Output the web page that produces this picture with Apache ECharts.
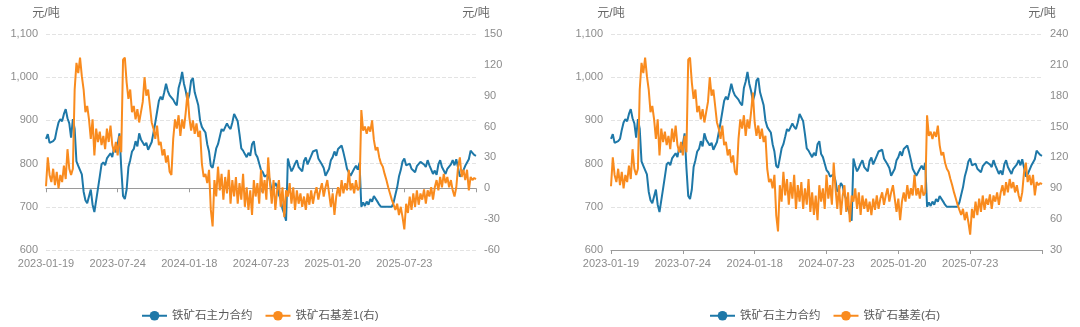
<!DOCTYPE html>
<html>
<head>
<meta charset="utf-8">
<script src="https://cdn.jsdelivr.net/npm/echarts@6/dist/echarts.min.js"></script>
<style>
  html, body { margin: 0; padding: 0; background: #ffffff; }
  #chart { width: 1080px; height: 327px; }
</style>
</head>
<body>
<div id="chart"></div>
<script>
// Dates shown under the x axis, one every STEP sampled trading days
const tickLabels = ['2023-01-19', '2023-07-24', '2024-01-18', '2024-07-23', '2025-01-20', '2025-07-23'];
const STEP = 40;

// Iron ore main contract, 元/吨 (sampled every third trading day)
const mainContract = [
  857, 868, 848, 845, 852, 857, 878, 895, 903, 898,
  915, 926, 905, 893, 860, 903, 880, 805, 795, 785,
  775, 735, 715, 708, 712, 740, 705, 688, 715, 742,
  770, 798, 803, 796, 812, 808, 824, 815, 838, 826,
  845, 870, 790, 725, 718, 740, 792, 808, 828, 834,
  852, 840, 870, 856, 852, 842, 848, 832, 836, 850,
  872, 895, 920, 945, 955, 948, 965, 985, 968, 958,
  960, 948, 940, 935, 975, 990, 1012, 985, 968, 945,
  960, 992, 998, 965, 950, 935, 900, 885, 878, 872,
  845, 828, 795, 790, 812, 835, 845, 862, 880, 875,
  878, 893, 885, 880, 895, 915, 918, 898, 868, 835,
  830, 822, 815, 825, 818, 845, 852, 822, 815, 800,
  785, 780, 770, 768, 775, 760, 735, 740, 755, 748,
  727, 718, 695, 683, 668, 812, 795, 782, 790, 800,
  808, 792, 788, 782, 806, 814, 798, 800, 818, 828,
  826, 832, 812, 810, 798, 790, 772, 768, 788, 808,
  815, 828, 818, 834, 838, 842, 826, 808, 788, 784,
  772, 780, 788, 795, 786, 802, 700, 710, 702, 712,
  705, 718, 712, 725, 722, 712, 705, 700, 698, 700,
  697, 700, 696, 700, 710, 728, 745, 770, 785, 805,
  812, 796, 792, 800, 788, 792, 780, 794, 798, 804,
  808, 798, 792, 808, 796, 786, 776, 784, 774, 798,
  808, 792, 784, 776, 788, 792, 798, 808, 796, 810,
  790, 770, 775, 785, 795, 798, 810, 830, 825, 820,
  818
];

// Iron ore basis 1, 元/吨 (right axis of the first panel)
const basis1 = [
  2, 30, 13, 6, 19, 3, 16, 0, 13, 6,
  22, 9, 38, 19, 13, 19, 96, 122, 112, 127,
  109, 96, 74, 80, 67, 48, 67, 32, 58, 45,
  55, 42, 51, 38, 58, 45, 61, 42, 35, 45,
  32, 51, 35, 125, 127, 103, 87, 96, 74, 80,
  67, 77, 64, 74, 84, 108, 90, 96, 80, 64,
  58, 48, 61, 42, 45, 32, 38, 25, 32, 16,
  13, 48, 67, 58, 71, 51, 67, 58, 74, 93,
  69, 56, 66, 53, 63, 50, 56, 24, 11, 14,
  5, 18, -21, -37, 8, -8, 21, -2, 14, -11,
  11, -5, 18, -15, 8, -8, 11, -15, 5, -11,
  14, -18, 1, -21, -2, -26, 8, -8, 5, -15,
  18, -5, 8, -11, 30, 5, -15, 8, -21, -2,
  8, -18, 1, -28, -2, -8, 5, -15, 1, -21,
  -2, -15, -5, -18, -8, -21, -5, -16, -2, -15,
  -5, 1, -11, -2, 5, -8, 1, 8, -5, -18,
  -5, -26, -8, 1, -8, 8, -5, 5, -2, 18,
  -2, 5, -5, 8, -2, 1, 76, 56, 60, 53,
  60, 55, 66, 47, 37, 40, 30, 24, 21, 14,
  8, 1, -5, -11, -16, -21, -15, -26, -18, -28,
  -40, -15, -24, -8, -21, -5, -18, -2, -16, -5,
  -11, -1, -15, -2, -8, 1, -11, 1, 8, -2,
  11, 1, 14, 5, 11, 1, 8, -2, -8, 1,
  21, 30, 11, 18, 8, 18, -2, 11, 8, 10,
  9
];

// Iron ore basis, 元/吨 (right axis of the second panel)
const basis = [
  92, 120, 103, 96, 109, 93, 106, 90, 103, 96,
  112, 99, 128, 109, 103, 109, 186, 212, 202, 217,
  199, 186, 164, 170, 157, 138, 157, 122, 148, 135,
  145, 132, 141, 128, 148, 135, 151, 132, 125, 135,
  122, 141, 125, 215, 217, 193, 177, 186, 164, 170,
  157, 167, 154, 164, 174, 198, 180, 186, 170, 154,
  148, 138, 151, 132, 135, 122, 128, 115, 122, 106,
  103, 138, 157, 148, 161, 141, 157, 148, 164, 183,
  154, 141, 151, 138, 148, 135, 141, 109, 96, 99,
  90, 103, 64, 48, 93, 77, 106, 83, 99, 74,
  96, 80, 103, 70, 93, 77, 96, 70, 90, 74,
  99, 67, 86, 64, 83, 59, 93, 77, 90, 70,
  103, 80, 93, 74, 115, 90, 70, 93, 64, 83,
  93, 67, 86, 57, 83, 77, 90, 70, 86, 64,
  83, 70, 80, 67, 77, 64, 80, 69, 83, 70,
  80, 86, 74, 83, 90, 77, 86, 93, 80, 67,
  80, 59, 77, 86, 77, 93, 80, 90, 83, 103,
  83, 90, 80, 93, 83, 86, 161, 141, 145, 138,
  145, 140, 151, 132, 122, 125, 115, 109, 106, 99,
  93, 86, 80, 74, 69, 64, 70, 59, 67, 57,
  45, 70, 61, 77, 64, 80, 67, 83, 69, 80,
  74, 84, 70, 83, 77, 86, 74, 86, 93, 83,
  96, 86, 99, 90, 96, 86, 93, 83, 77, 86,
  106, 115, 96, 103, 93, 103, 83, 96, 93, 95,
  94
];

const categories = mainContract.map((_, i) => String(i));

const FONT = "'Liberation Sans','Noto Sans CJK SC',sans-serif";
const BLUE = '#1e78a8';
const ORANGE = '#f98b1e';
const LABEL = '#8c8c8c';
const AXIS = '#9a9a9a';

function dateLabel(value) {
  const k = Number(value) / STEP;
  return Number.isInteger(k) && tickLabels[k] ? tickLabels[k] : '';
}

function xAxis(gridIndex, extra) {
  const base = {
    type: 'category',
    gridIndex: gridIndex,
    position: 'bottom',
    data: categories,
    boundaryGap: false,
    axisLabel: { interval: STEP - 1, formatter: dateLabel, color: LABEL, fontSize: 11, fontFamily: FONT, margin: 8 },
    axisTick: { interval: STEP - 1, length: 4, lineStyle: { color: AXIS } },
    axisLine: { onZero: false, lineStyle: { color: AXIS } },
    splitLine: { show: false }
  };
  return Object.assign(base, extra);
}

function yAxis(gridIndex, position, min, max, interval, grid) {
  return {
    type: 'value',
    gridIndex: gridIndex,
    position: position,
    min: min, max: max, interval: interval,
    name: '元/吨',
    nameLocation: 'end',
    nameGap: 14,
    nameTextStyle: { color: '#666666', fontSize: 12, fontFamily: FONT },
    axisLine: { show: false },
    axisTick: { show: false },
    axisLabel: { color: LABEL, fontSize: 11, fontFamily: FONT, margin: 8 },
    splitLine: grid
      ? { show: true, lineStyle: { color: '#e3e3e3', type: 'dashed', width: 1 } }
      : { show: false }
  };
}

function line(name, xi, yi, data, color) {
  return {
    name: name, type: 'line', xAxisIndex: xi, yAxisIndex: yi, data: data,
    symbol: 'circle', showSymbol: false, color: color,
    lineStyle: { width: 2, color: color },
    emphasis: { disabled: true }
  };
}

const legendText = { color: '#595959', fontSize: 11.5, fontFamily: FONT };

const option = {
  animation: false,
  backgroundColor: '#ffffff',
  grid: [
    { left: 46, width: 430, top: 34, height: 216 },
    { left: 611, width: 431, top: 34, height: 216 }
  ],
  legend: [
    { left: 136, top: 305, itemWidth: 25, itemHeight: 12, itemGap: 12, textStyle: legendText,
      data: ['铁矿石主力合约', '铁矿石基差1(右)'] },
    { left: 704, top: 305, itemWidth: 25, itemHeight: 12, itemGap: 12, textStyle: legendText,
      data: ['铁矿石主力合约', '铁矿石基差(右)'] }
  ],
  xAxis: [
    // first panel: date labels only
    xAxis(0, { axisLine: { show: false, onZero: false }, axisTick: { show: false } }),
    // second panel: labels, baseline and ticks
    xAxis(1, {}),
    // first panel: baseline drawn at 0 of the basis axis
    xAxis(0, {
      axisLabel: { show: false, interval: STEP - 1 },
      axisLine: { show: true, onZero: true, onZeroAxisIndex: 1, lineStyle: { color: AXIS } }
    })
  ],
  yAxis: [
    yAxis(0, 'left', 600, 1100, 100, true),
    yAxis(0, 'right', -60, 150, 30, false),
    yAxis(1, 'left', 600, 1100, 100, true),
    yAxis(1, 'right', 30, 240, 30, false)
  ],
  series: [
    line('铁矿石主力合约', 0, 0, mainContract, BLUE),
    line('铁矿石基差1(右)', 0, 1, basis1, ORANGE),
    line('铁矿石主力合约', 1, 2, mainContract, BLUE),
    line('铁矿石基差(右)', 1, 3, basis, ORANGE)
  ]
};

const chart = echarts.init(document.getElementById('chart'), null, { renderer: 'canvas' });
chart.setOption(option);
</script>
</body>
</html>
